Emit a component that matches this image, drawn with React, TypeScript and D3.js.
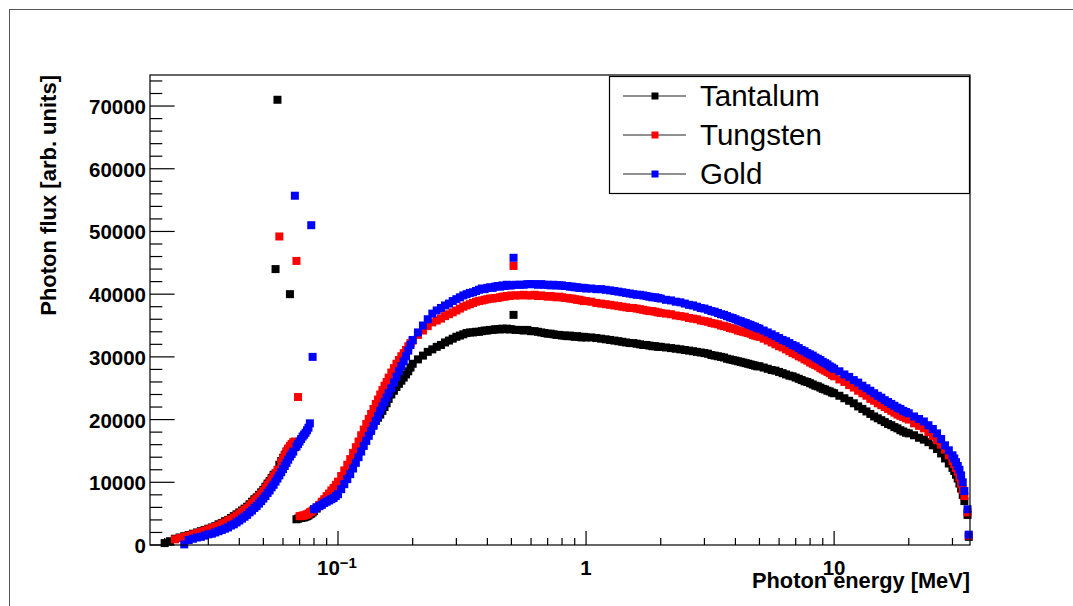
import React from "react";
import * as d3 from "d3";

// Photon energy bin centres [MeV]
const energy = [
  0.020, 0.021, 0.022, 0.023, 0.024, 0.025, 0.026, 0.027, 0.028, 0.029,
  0.030, 0.031, 0.032, 0.033, 0.034, 0.035, 0.036, 0.037, 0.038, 0.039,
  0.040, 0.041, 0.042, 0.043, 0.044, 0.045, 0.046, 0.047, 0.048, 0.049,
  0.050, 0.051, 0.052, 0.053, 0.054, 0.055, 0.056, 0.057, 0.058, 0.059,
  0.060, 0.061, 0.062, 0.063, 0.064, 0.065, 0.066, 0.067, 0.068, 0.069,
  0.070, 0.071, 0.072, 0.073, 0.074, 0.075, 0.076, 0.077, 0.078, 0.079,
  0.080,
  0.082, 0.084, 0.086, 0.088, 0.090, 0.092, 0.094, 0.096, 0.098, 0.100,
  0.103, 0.106, 0.109, 0.112, 0.115, 0.118, 0.121, 0.124, 0.127, 0.130,
  0.133, 0.136, 0.139, 0.142, 0.145, 0.148, 0.151, 0.154, 0.157, 0.160,
  0.164, 0.168, 0.172, 0.176, 0.180, 0.184, 0.188, 0.192, 0.196, 0.200,
  0.21, 0.22, 0.23, 0.24, 0.25, 0.26, 0.27, 0.28, 0.29, 0.30,
  0.31, 0.32, 0.33, 0.34, 0.35, 0.36, 0.37, 0.38, 0.39, 0.40,
  0.41, 0.42, 0.43, 0.44, 0.45, 0.46, 0.47, 0.48, 0.49, 0.50,
  0.51, 0.52,
  0.54, 0.56, 0.58, 0.60, 0.62, 0.64, 0.66, 0.68, 0.70, 0.72, 0.74, 0.76,
  0.78, 0.80, 0.82, 0.84, 0.86, 0.88, 0.90, 0.92, 0.94, 0.96, 0.98, 1.00,
  1.05, 1.10, 1.15, 1.20, 1.25, 1.30, 1.35, 1.40, 1.45, 1.50,
  1.55, 1.60, 1.65, 1.70, 1.75, 1.80, 1.85, 1.90, 1.95, 2.00,
  2.1, 2.2, 2.3, 2.4, 2.5, 2.6, 2.7, 2.8, 2.9, 3.0,
  3.1, 3.2, 3.3, 3.4, 3.5, 3.6, 3.7, 3.8, 3.9, 4.0,
  4.1, 4.2, 4.3, 4.4, 4.5, 4.6, 4.7, 4.8, 4.9, 5.0,
  5.2, 5.4, 5.6, 5.8, 6.0, 6.2, 6.4, 6.6, 6.8, 7.0, 7.2, 7.4, 7.6,
  7.8, 8.0, 8.2, 8.4, 8.6, 8.8, 9.0, 9.2, 9.4, 9.6, 9.8, 10.0,
  10.5, 11, 11.5, 12, 12.5, 13, 13.5, 14, 14.5, 15,
  15.5, 16, 16.5, 17, 17.5, 18, 18.5, 19, 19.5, 20,
  21, 22, 23, 24, 25, 26, 27, 28, 29,
  30, 30.5, 31, 31.5, 32, 32.5, 33, 33.5, 34.5, 34.9,
];

const tantalum: (number | null)[] = [
  300, 600, 1000, 1200, 1400, 1600, 1800, 2000, 2200, 2400,
  2600, 2800, 3000, 3300, 3500, 3800, 4000, 4300, 4600, 4900,
  5200, 5500, 5800, 6100, 6500, 6900, 7300, 7600, 8000, 8400,
  8800, 9300, 9800, 10200, 10700, 11200, 44000, 71000, 12800, 13400,
  13900, 14400, 14900, 15300, 40000, 15700, 15900, 15600, 4100, 4200,
  4300, 4300, 4400, 4400, 4500, 4600, 4700, 4900, 5000, 5200,
  5400,
  5800, 6200, 6600, 7000, 7400, 7800, 8200, 8600, 9000, 9400,
  10100, 10900, 11700, 12500, 13400, 14200, 15100, 15900, 16700, 17400,
  18000, 18600, 19200, 19800, 20300, 20800, 21400, 22000, 22600, 23300,
  24000, 24600, 25200, 25700, 26200, 26700, 27200, 27700, 28300, 28900,
  29600, 30200, 30800, 31200, 31600, 31900, 32300, 32600, 32900, 33200,
  33400, 33600, 33800, 33900, 33900, 34000, 34000, 34100, 34200, 34200,
  34300, 34300, 34400, 34400, 34400, 34500, 34400, 34500, 34400, 34400,
  36700, 34300,
  34300, 34200, 34300, 34100, 34100, 34000, 33900, 33800, 33700, 33700, 33600, 33500,
  33500, 33400, 33400, 33300, 33400, 33300, 33200, 33300, 33200, 33100, 33200, 33100,
  33100, 33000, 32900, 32800, 32700, 32600, 32500, 32400, 32300, 32200,
  32200, 32100, 32000, 31900, 31900, 31800, 31700, 31700, 31600, 31600,
  31500, 31400, 31300, 31200, 31100, 31000, 30900, 30800, 30700, 30600,
  30500, 30300, 30200, 30100, 30000, 29900, 29700, 29600, 29500, 29400,
  29300, 29200, 29100, 29000, 28900, 28800, 28700, 28600, 28500, 28500,
  28300, 28100, 27900, 27800, 27600, 27400, 27200, 27000, 26900, 26700, 26500, 26300, 26100,
  26000, 25800, 25600, 25400, 25300, 25100, 24900, 24800, 24600, 24500, 24300, 24200,
  23800, 23400, 23000, 22600, 22100, 21700, 21300, 20900, 20500, 20200,
  19900, 19600, 19300, 19100, 18800, 18600, 18300, 18100, 17900, 17800,
  17500, 17100, 16800, 16400, 15900, 15300, 14600, 13800, 13000,
  12300, 11800, 11200, 10600, 9800, 9000, 8000, 7000, 4800, 1300,
];

const tungsten: (number | null)[] = [
  null, null, 900, 1100, 1300, 1500, 1700, 1900, 2100, 2300,
  2500, 2700, 2900, 3100, 3400, 3600, 3900, 4100, 4400, 4700,
  5000, 5300, 5600, 5900, 6300, 6700, 7100, 7400, 7800, 8200,
  8600, 9100, 9600, 10000, 10500, 11000, 11500, 12000, 49200, 13200,
  13800, 14300, 14900, 15400, 15800, 16100, 16400, 16500, 45300, 23600,
  4600, 4600, 4700, 4700, 4800, 4900, 5000, 5200, 5300, 5500,
  5700,
  6000, 6400, 6900, 7300, 7800, 8200, 8700, 9100, 9600, 10100,
  11000, 11900, 12800, 13700, 14700, 15600, 16500, 17500, 18400, 19300,
  20100, 20900, 21700, 22500, 23200, 24000, 24700, 25400, 26000, 26700,
  27500, 28200, 28900, 29500, 30100, 30600, 31100, 31700, 32200, 32600,
  33500, 34200, 34900, 35500, 35800, 36100, 36500, 36800, 37100, 37400,
  37700, 38000, 38200, 38400, 38600, 38800, 38900, 39000, 39100, 39200,
  39300, 39300, 39400, 39400, 39500, 39600, 39600, 39700, 39700, 39800,
  44500, 39800,
  39800, 39900, 39800, 39800, 39900, 39700, 39800, 39700, 39600, 39700, 39600, 39500,
  39600, 39500, 39400, 39400, 39300, 39300, 39200, 39100, 39100, 39000, 38900, 38900,
  38800, 38600, 38500, 38400, 38300, 38200, 38100, 38000, 37900, 37800,
  37800, 37700, 37600, 37500, 37400, 37300, 37300, 37200, 37100, 37000,
  36900, 36800, 36600, 36500, 36400, 36200, 36100, 36000, 35800, 35700,
  35600, 35400, 35300, 35200, 35000, 34900, 34800, 34600, 34500, 34400,
  34200, 34100, 34000, 33900, 33800, 33700, 33500, 33400, 33300, 33200,
  32900, 32600, 32300, 32000, 31700, 31500, 31200, 30900, 30600, 30400, 30100, 29900, 29600,
  29400, 29100, 28900, 28700, 28500, 28200, 28000, 27800, 27600, 27400, 27100, 26900,
  26400, 26000, 25500, 25100, 24600, 24200, 23800, 23300, 23000, 22600,
  22300, 22000, 21700, 21400, 21100, 20800, 20600, 20400, 20200, 20000,
  19400, 19000, 18600, 18000, 17400, 16700, 16000, 15200, 14300,
  13400, 12900, 12300, 11700, 10800, 9800, 8800, 7800, 5200, 1500,
];

const gold: (number | null)[] = [
  null, null, null, null, 100, 800, 1000, 1200, 1300, 1500,
  1700, 1800, 2000, 2200, 2400, 2600, 2800, 3100, 3300, 3600,
  3900, 4200, 4500, 4800, 5200, 5500, 5900, 6200, 6600, 7000,
  7400, 7800, 8300, 8700, 9200, 9600, 10100, 10600, 11100, 11600,
  12100, 12600, 13100, 13600, 14100, 14500, 14900, 55700, 15700, 16100,
  16500, 16900, 17300, 17600, 17900, 18300, 18700, 19400, 51000, 30000,
  5700,
  6000, 6200, 6400, 6700, 6900, 7100, 7300, 7500, 7800, 8100,
  8900, 9700, 10500, 11300, 12200, 13100, 14000, 14900, 15800, 16600,
  17400, 18200, 19000, 19800, 20600, 21400, 22100, 22800, 23500, 24200,
  25000, 25900, 26800, 27700, 28500, 29300, 30100, 31000, 31900, 32700,
  33900, 35000, 36000, 36900, 37400, 37800, 38200, 38500, 38900, 39200,
  39500, 39800, 40000, 40200, 40300, 40500, 40700, 40900, 40800, 41000,
  41100, 41000, 41200, 41300, 41200, 41400, 41300, 41500, 41400, 41400,
  45800, 41500,
  41500, 41500, 41600, 41600, 41600, 41500, 41600, 41500, 41500, 41400, 41500, 41400,
  41400, 41400, 41300, 41300, 41200, 41200, 41100, 41100, 41000, 41000, 41000, 40900,
  40900, 40800, 40800, 40700, 40600, 40500, 40400, 40300, 40200, 40100,
  40000, 39900, 39900, 39800, 39700, 39600, 39500, 39500, 39400, 39300,
  39100, 39000, 38800, 38700, 38500, 38300, 38200, 38000, 37800, 37700,
  37500, 37300, 37200, 37000, 36800, 36700, 36500, 36300, 36200, 36000,
  35800, 35700, 35500, 35400, 35200, 35100, 34900, 34800, 34600, 34500,
  34200, 33900, 33600, 33300, 33000, 32700, 32500, 32200, 31900, 31700, 31400, 31100, 30900,
  30600, 30400, 30200, 29900, 29700, 29500, 29200, 29000, 28800, 28500, 28300, 28100,
  27700, 27200, 26800, 26300, 25900, 25400, 25000, 24600, 24200, 23800,
  23500, 23100, 22800, 22500, 22200, 21900, 21700, 21400, 21200, 21000,
  20500, 20100, 19700, 19100, 18500, 17800, 16900, 15900, 15100,
  14300, 13800, 13200, 12600, 12000, 11100, 10000, 8600, 5700, 1650,
];

const seriesNames = ["Tantalum", "Tungsten", "Gold"];
const seriesColors = ["#000000", "#ff0000", "#0000ff"];
const seriesValues = [tantalum, tungsten, gold];

const yTicks = [0, 10000, 20000, 30000, 40000, 50000, 60000, 70000];
const xMajorTicks = [0.1, 1, 10];
const xTickBase = ["10", "1", "10"];
const xTickExp = ["\u22121", "", ""];

const xTitle = "Photon energy [MeV]";
const yTitle = "Photon flux [arb. units]";

const FONT = "'Liberation Sans', Arial, Helvetica, sans-serif";

export default function App() {
  const left = 150, right = 970, top = 75, bottom = 545;
  const x = d3.scaleLog().domain([0.01746, 35.3]).range([left, right]);
  const y = d3.scaleLinear().domain([0, 74950]).range([bottom, top]);

  const xMinor: number[] = [];
  [0.01, 0.1, 1, 10].forEach((d) => {
    for (let m = 2; m <= 9; m++) {
      const v = d * m;
      if (v >= 0.01746 && v <= 35.3) xMinor.push(v);
    }
  });
  const yMinor = d3.range(0, 74001, 2000).filter((v) => v % 10000 !== 0);

  const yTickLen = 0.03 * (right - left);
  const xTickLen = 0.03 * (bottom - top);
  const ms = 8;

  return (
    <svg
      width={1073}
      height={606}
      style={{ position: "absolute", left: 0, top: 0, background: "#fff" }}
      fontFamily={FONT}
    >
      <rect x={0} y={0} width={1073} height={606} fill="#fff" />
      {/* canvas border */}
      <line x1={9.5} y1={9} x2={9.5} y2={606} stroke="#555" strokeWidth={1} />
      <line x1={9} y1={9.5} x2={1073} y2={9.5} stroke="#555" strokeWidth={1} />

      {/* markers */}
      {seriesValues.map((vals, si) => (
        <g key={si} fill={seriesColors[si]}>
          {energy.map((e, i) => {
            const v = vals[i];
            if (v === null || v === undefined) return null;
            return (
              <rect
                key={i}
                x={x(e) - ms / 2}
                y={y(v) - ms / 2}
                width={ms}
                height={ms}
              />
            );
          })}
        </g>
      ))}

      {/* frame */}
      <rect
        x={left}
        y={top}
        width={right - left}
        height={bottom - top}
        fill="none"
        stroke="#000"
        strokeWidth={1.2}
      />

      {/* ticks */}
      <g stroke="#000" strokeWidth={1.2}>
        {yTicks.map((t) => (
          <line key={"ym" + t} x1={left} x2={left + yTickLen} y1={y(t)} y2={y(t)} />
        ))}
        {yMinor.map((t) => (
          <line key={"yn" + t} x1={left} x2={left + yTickLen / 2} y1={y(t)} y2={y(t)} />
        ))}
        {xMajorTicks.map((t) => (
          <line key={"xm" + t} x1={x(t)} x2={x(t)} y1={bottom} y2={bottom - xTickLen} />
        ))}
        {xMinor.map((t) => (
          <line key={"xn" + t} x1={x(t)} x2={x(t)} y1={bottom} y2={bottom - xTickLen / 2} />
        ))}
      </g>

      {/* y tick labels */}
      <g fontSize={20.5} fontWeight="bold" textAnchor="end" fill="#000">
        {yTicks.map((t) => (
          <text key={t} x={146} y={y(t) + 8}>
            {t}
          </text>
        ))}
      </g>

      {/* x tick labels */}
      <g fontSize={20.5} fontWeight="bold" textAnchor="middle" fill="#000">
        {xMajorTicks.map((t, i) => (
          <text key={t} x={x(t) - (xTickExp[i] ? 1 : 0)} y={575}>
            <tspan>{xTickBase[i]}</tspan>
            {xTickExp[i] ? (
              <tspan fontSize={15} dy={-7}>
                {xTickExp[i]}
              </tspan>
            ) : null}
          </text>
        ))}
      </g>

      {/* axis titles */}
      <text
        x={970}
        y={588}
        fontSize={21.8}
        fontWeight="bold"
        textAnchor="end"
        fill="#000"
      >
        {xTitle}
      </text>
      <text
        transform="translate(56,75) rotate(-90)"
        fontSize={22}
        fontWeight="bold"
        textAnchor="end"
        fill="#000"
      >
        {yTitle}
      </text>

      {/* legend */}
      <rect x={609.5} y={76.5} width={360} height={117} fill="#fff" stroke="#000" strokeWidth={1.2} />
      {seriesNames.map((name, i) => {
        const ry = 96 + i * 39;
        return (
          <g key={name}>
            <line x1={623} x2={686} y1={ry} y2={ry} stroke="#222" strokeWidth={1.2} />
            <rect x={655 - 3.5} y={ry - 3.5} width={7} height={7} fill={seriesColors[i]} />
            <text x={700} y={ry + 10} fontSize={29.5} fill="#000">
              {name}
            </text>
          </g>
        );
      })}
    </svg>
  );
}
